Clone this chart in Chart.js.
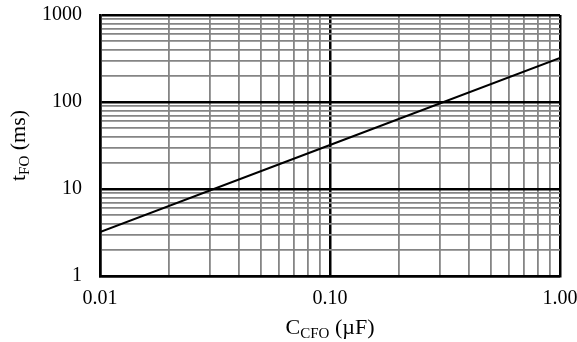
<!DOCTYPE html>
<html>
<head>
<meta charset="utf-8">
<script src="https://cdn.jsdelivr.net/npm/chart.js@4/dist/chart.umd.min.js"></script>
<style>
  html, body { margin: 0; padding: 0; background: #fff; }
  #wrap { width: 577px; height: 342px; position: relative; }
</style>
</head>
<body>
<div id="wrap"><canvas id="c" width="577" height="342"></canvas></div>
<script>
// ---- data ----
const capacitanceUF = [0.01, 0.1, 1.0];        // C_CFO (µF)
const faultTimeMs   = [3.2, 32, 320];          // t_FO (ms)

const xMajorTicks  = [0.01, 0.1, 1.0];
const xMajorLabels = ["0.01", "0.10", "1.00"];
const yMajorTicks  = [1, 10, 100, 1000];
const yMajorLabels = ["1", "10", "100", "1000"];
const minorMultipliers = [2, 3, 4, 5, 6, 7, 8, 9];

const xTitleMain = "C", xTitleSub = "CFO", xTitleRest = " (µF)";
const yTitleMain = "t", yTitleSub = "FO", yTitleRest = " (ms)";

const FONT = "'Liberation Serif', 'Times New Roman', serif";

function buildTicks(majors) {
  const out = [];
  for (let i = 0; i < majors.length; i++) {
    out.push(majors[i]);
    if (i < majors.length - 1) {
      minorMultipliers.forEach(m => out.push(+(majors[i] * m).toPrecision(6)));
    }
  }
  return out;
}
const xTicks = buildTicks(xMajorTicks);
const yTicks = buildTicks(yMajorTicks);

function isMajor(list, v) {
  return list.some(m => Math.abs(v - m) / m < 1e-6);
}
function labelFor(list, labels, v) {
  const i = list.findIndex(m => Math.abs(v - m) / m < 1e-6);
  return i >= 0 ? labels[i] : '';
}
function zeroPad(s) {
  s.paddingTop = 0; s.paddingBottom = 0; s.paddingLeft = 0; s.paddingRight = 0;
}

const titlePlugin = {
  id: 'subTitles',
  afterDraw(chart) {
    const ctx = chart.ctx;
    const area = chart.chartArea;
    const big = 22, small = 15;
    ctx.save();
    ctx.fillStyle = '#000';
    ctx.textBaseline = 'alphabetic';
    // x title
    ctx.font = big + 'px ' + FONT;
    const wMain = ctx.measureText(xTitleMain).width;
    const wRest = ctx.measureText(xTitleRest).width;
    ctx.font = small + 'px ' + FONT;
    const wSub = ctx.measureText(xTitleSub).width;
    let total = wMain + wSub + wRest;
    let x = (area.left + area.right) / 2 - total / 2;
    const baseY = 334;
    ctx.font = big + 'px ' + FONT;
    ctx.fillText(xTitleMain, x, baseY);
    x += wMain;
    ctx.font = small + 'px ' + FONT;
    ctx.fillText(xTitleSub, x, baseY + 4);
    x += wSub;
    ctx.font = big + 'px ' + FONT;
    ctx.fillText(xTitleRest, x, baseY);

    // y title (rotated)
    ctx.translate(25, (area.top + area.bottom) / 2);
    ctx.rotate(-Math.PI / 2);
    ctx.font = big + 'px ' + FONT;
    const ywMain = ctx.measureText(yTitleMain).width;
    const ywRest = ctx.measureText(yTitleRest).width;
    ctx.font = small + 'px ' + FONT;
    const ywSub = ctx.measureText(yTitleSub).width;
    total = ywMain + ywSub + ywRest;
    x = -total / 2;
    ctx.font = big + 'px ' + FONT;
    ctx.fillText(yTitleMain, x, 0);
    x += ywMain;
    ctx.font = small + 'px ' + FONT;
    ctx.fillText(yTitleSub, x, 4);
    x += ywSub;
    ctx.font = big + 'px ' + FONT;
    ctx.fillText(yTitleRest, x, 0);
    ctx.restore();
  }
};

new Chart(document.getElementById('c'), {
  type: 'line',
  data: {
    datasets: [{
      data: capacitanceUF.map((c, i) => ({ x: c, y: faultTimeMs[i] })),
      borderColor: '#000',
      borderWidth: 2,
      pointRadius: 0,
      fill: false,
      tension: 0
    }]
  },
  options: {
    responsive: false,
    animation: false,
    devicePixelRatio: 1,
    layout: { padding: { top: 15, right: 17, left: 0, bottom: 0 } },
    plugins: { legend: { display: false }, tooltip: { enabled: false } },
    scales: {
      x: {
        type: 'logarithmic',
        min: xMajorTicks[0],
        max: xMajorTicks[xMajorTicks.length - 1],
        afterBuildTicks: s => { s.ticks = xTicks.map(v => ({ value: v, major: isMajor(xMajorTicks, v) })); },
        afterFit: s => { s.height = 66; zeroPad(s); },
        ticks: {
          autoSkip: false,
          maxRotation: 0,
          padding: 11,
          color: '#000',
          font: { family: FONT, size: 20 },
          callback: v => labelFor(xMajorTicks, xMajorLabels, v)
        },
        grid: {
          drawTicks: false,
          color: c => isMajor(xMajorTicks, c.tick.value) ? '#000' : '#858585',
          lineWidth: c => isMajor(xMajorTicks, c.tick.value) ? 2.5 : 1.8
        },
        border: { display: true, color: '#000', width: 2.5 }
      },
      y: {
        type: 'logarithmic',
        min: yMajorTicks[0],
        max: yMajorTicks[yMajorTicks.length - 1],
        afterBuildTicks: s => { s.ticks = yTicks.map(v => ({ value: v, major: isMajor(yMajorTicks, v) })); },
        afterFit: s => { s.width = 100; zeroPad(s); },
        ticks: {
          autoSkip: false,
          padding: 18,
          color: '#000',
          font: { family: FONT, size: 20 },
          callback: v => labelFor(yMajorTicks, yMajorLabels, v)
        },
        grid: {
          drawTicks: false,
          color: c => isMajor(yMajorTicks, c.tick.value) ? '#000' : '#858585',
          lineWidth: c => isMajor(yMajorTicks, c.tick.value) ? 2.5 : 1.8
        },
        border: { display: true, color: '#000', width: 2.5 }
      }
    }
  },
  plugins: [titlePlugin]
});
</script>
</body>
</html>
